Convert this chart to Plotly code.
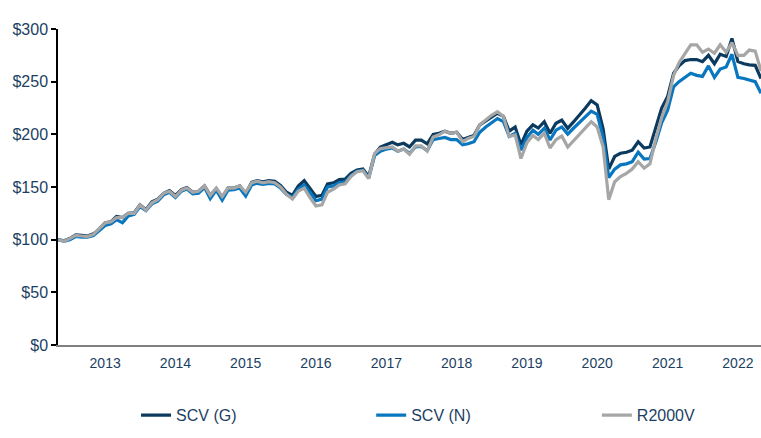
import pandas as pd
import plotly.graph_objects as go

# Monthly index values, May 2012 .. May 2022
dates = pd.date_range("2012-05-01", periods=121, freq="MS")

scv_g = [100, 99, 101, 104.5, 104, 103.5, 105.5, 110, 116, 117, 122, 121, 125, 125.5, 133, 128.5,
         136, 138.5, 144, 146.5, 142, 147.5, 149.5, 145, 146, 151, 142, 148.5, 140, 149, 149, 151,
         143.5, 154.5, 156, 155, 156, 155.5, 151.5, 145, 142, 151, 156, 148, 141, 142, 153, 154,
         157, 157.5, 163, 166, 167, 160, 181, 188, 190, 192.5, 190, 191.5, 188, 194.5, 194.5, 191,
         200, 201, 203, 201, 202, 195, 197, 199, 209, 213, 216, 220, 217, 203, 207, 190,
         203, 209, 206, 212, 201, 210.5, 213.6, 205.7, 212, 218, 225, 232, 228, 205, 167, 179,
         182, 183, 185, 193, 187, 188, 206, 225, 236, 258, 265, 270, 271, 271, 269, 275,
         267, 276, 274, 291, 269, 267, 266, 265.5, 253]

scv_n = [100, 98.5, 100, 103, 102.5, 102.5, 104, 108.5, 113.5, 115, 119, 116, 122.5, 124, 131.5, 127.5,
         134, 136.5, 142.5, 145, 140, 146, 148, 143.5, 144, 149.5, 139, 147, 137.5, 147, 147.5, 149,
         141.5, 152, 153.5, 152.5, 153.5, 153, 149, 143, 140, 148, 152, 145, 137, 138.5, 150, 151,
         154, 155, 161, 165, 166, 158.5, 180, 184, 186, 187, 184, 186, 182, 188, 188.5, 184.5,
         195, 196, 197, 195, 195, 190, 191, 193, 202, 207, 211, 215, 212, 198, 201, 185,
         197, 204, 200, 205.7, 194.6, 204, 207, 200.3, 206, 211, 217, 222, 219, 197, 159, 167,
         171, 172, 174, 183, 176.5, 177, 193, 211, 223, 245, 250, 254, 258, 256, 255, 265,
         254, 262, 264, 276, 254, 253, 251.5, 250, 239]

r2000v = [100, 98.5, 101, 104, 103.5, 103, 105, 110, 116, 117, 121, 121, 125, 125, 133, 128,
          135, 138, 144, 146, 141, 147, 149, 145, 146, 151, 142, 149, 141, 149, 149, 151,
          145, 154, 155.5, 154, 155, 154, 150, 143, 138.6, 146, 149, 140, 132, 133, 145, 148,
          152, 153, 160, 164.5, 165.5, 158, 182, 186.5, 187, 188, 184, 186, 181, 189, 189, 184,
          197.5, 199.5, 203, 201, 202, 193, 196, 198, 209, 213.6, 218, 221.5, 217, 198, 199.4, 177,
          192, 199, 195, 201, 187, 195, 198.4, 188, 194, 200, 206, 212, 207, 188, 138, 155,
          160, 163, 167, 174, 168, 172, 196, 216, 231, 256, 268, 277, 285, 285, 278, 281,
          277, 285, 278, 287, 275, 275, 280, 279, 260]

series_names = ["SCV (G)", "SCV (N)", "R2000V"]
y_ticks = [0, 50, 100, 150, 200, 250, 300]
y_labels = [f"${v}" for v in y_ticks]
year_ticks = [f"{y}-01-01" for y in range(2013, 2023)]
year_labels = [str(y) for y in range(2013, 2023)]

colors = ["#0B3A5E", "#0877BF", "#A6A6A6"]
text_color = "#1B3F63"
legend_ids = ["legend", "legend2", "legend3"]
legend_x = [0.111, 0.4455, 0.7665]

fig = go.Figure()
for name, vals, col, lg in zip(series_names, [scv_g, scv_n, r2000v], colors, legend_ids):
    fig.add_trace(go.Scatter(x=dates, y=vals, mode="lines", name=name, legend=lg,
                             line=dict(color=col, width=3.2)))

legend_style = dict(orientation="h", xanchor="left", y=-0.222, yanchor="middle",
                    font=dict(size=16, color=text_color), bgcolor="rgba(0,0,0,0)")
fig.update_layout(
    width=761, height=438,
    margin=dict(l=58, r=0, t=29, b=93),
    paper_bgcolor="white", plot_bgcolor="white",
    font=dict(family="Liberation Sans, Arial, sans-serif", color=text_color),
    showlegend=True,
    legend=dict(x=legend_x[0], **legend_style),
    legend2=dict(x=legend_x[1], **legend_style),
    legend3=dict(x=legend_x[2], **legend_style),
)
fig.update_xaxes(
    range=[dates[0], dates[-1]], automargin=False,
    tickvals=year_ticks, ticktext=year_labels,
    showline=True, linecolor="#808080", linewidth=2,
    ticks="", showgrid=False, zeroline=False,
    tickfont=dict(size=14, color=text_color),
    ticklabelstandoff=4,
)
fig.update_yaxes(
    range=[0, 300], automargin=False, tickvals=y_ticks, ticktext=y_labels,
    showline=True, linecolor="black", linewidth=1.5,
    ticks="outside", ticklen=5, tickcolor="black", tickwidth=1.5,
    showgrid=False, zeroline=False,
    tickfont=dict(size=16, color=text_color),
)

# remove the default 8px page margin so the 761x438 figure fills the window exactly
fig.write_html("out.html", config={"displayModeBar": False},
               post_script="document.body.style.margin='0';")
